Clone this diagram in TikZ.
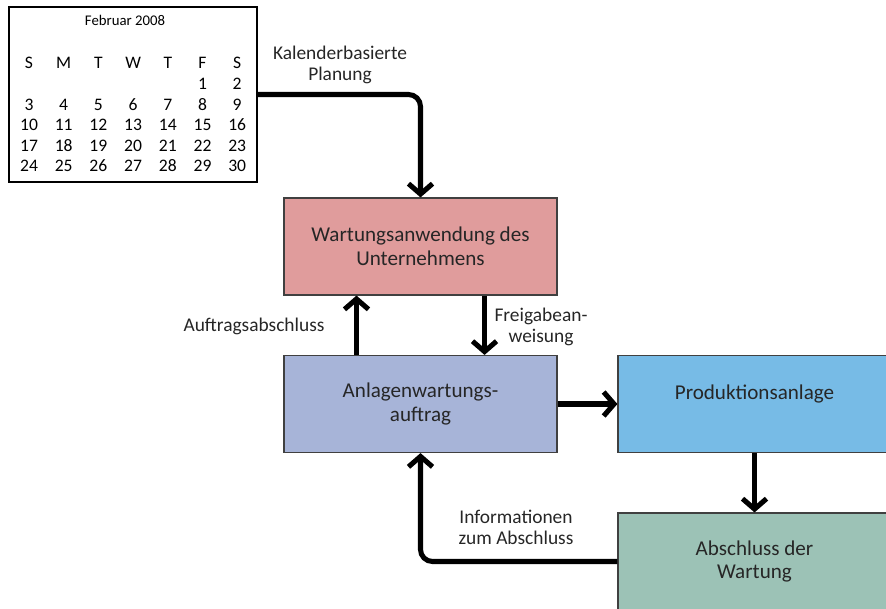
\documentclass[tikz,border=0pt]{standalone}
\usepackage{fontspec}
\setmainfont{Carlito}
\usetikzlibrary{arrows.meta,positioning,calc}
\definecolor{rosebox}{HTML}{E09C9C}
\definecolor{lilacbox}{HTML}{A7B4D8}
\definecolor{skybox}{HTML}{77BBE6}
\definecolor{sagebox}{HTML}{9CC2B6}
\tikzset{
  box/.style={draw=black!75,line width=0.8pt,align=center,
              minimum width=6.825cm,minimum height=2.425cm,inner sep=2pt,
              font=\fontsize{15}{17}\selectfont,text=black!85},
  lbl/.style={align=center,font=\fontsize{13.8}{15}\selectfont,text=black!85},
  calnum/.style={font=\fontsize{12.5}{14}\selectfont,inner sep=0pt},
  flow/.style={-{Straight Barb[length=2.6mm,width=6mm]},line width=3.6pt},
}

\begin{document}
\begin{tikzpicture}[x=0.025cm,y=-0.025cm]
  \useasboundingbox (0,0) rectangle (886,608);
  \clip (0,0) rectangle (886,608);
  % calendar
  \node[draw,line width=1.1pt,minimum width=6.2cm,minimum height=4.375cm,inner sep=0pt] (cal) at (133,94.5) {};
  \node[calnum,font=\fontsize{10.5}{12}\selectfont] (month) at (125,20) {Februar 2008};
  \foreach \h [count=\i from 0] in {S,M,T,W,T,F,S}
    \node[calnum] (h\i) at ({29+34.7*\i},63) {\h};
  \foreach \d in {1,...,30}{
    \pgfmathtruncatemacro{\c}{mod(\d+4,7)}
    \pgfmathtruncatemacro{\r}{floor((\d+4)/7)}
    \node[calnum] (d\d) at ({29+34.7*\c},{84+20.5*\r}) {\d};
  }
  % boxes
  \node[box,fill=rosebox] (wartung) at (420.5,246.5) {Wartungsanwendung des\\Unternehmens};
  \node[box,fill=lilacbox] (anlage) at (420.5,404) {Anlagenwartungs-\\auftrag};
  \node[box,fill=skybox] (prod) at (754.5,404) {Produktionsanlage\\\mbox{}};
  \node[box,fill=sagebox] (abschluss) at (754.5,561.5) {Abschluss der\\Wartung};
  % connectors
  \draw[flow,rounded corners=0.3cm] (cal.east) -| (wartung.north);
  \draw[flow] ([xshift=-1.6cm]anlage.north) -- ([xshift=-1.6cm]wartung.south);
  \draw[flow] ([xshift=1.6cm]wartung.south) -- ([xshift=1.6cm]anlage.north);
  \draw[flow] (anlage.east) -- (prod.west);
  \draw[flow] (prod.south) -- (abschluss.north);
  \draw[flow,rounded corners=0.3cm] (abschluss.west) -| (anlage.south);
  % labels
  \node[lbl] (kal) at (340,65) {Kalenderbasierte\\Planung};
  \node[lbl] (auftr) at (254,326) {Auftragsabschluss};
  \node[lbl] (frei) at (541,327) {Freigabean-\\weisung};
  \node[lbl] (info) at (516,527) {Informationen\\zum Abschluss};
\end{tikzpicture}
\end{document}
